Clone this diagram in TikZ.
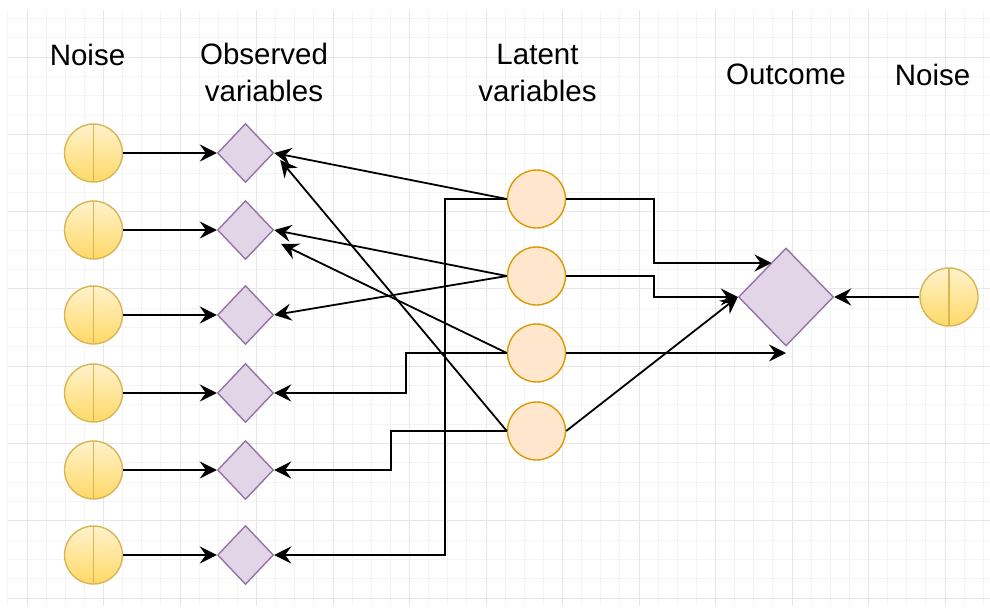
\documentclass[tikz,border=0pt]{standalone}
\usepackage{fontspec}
\setmainfont{Liberation Sans}
\usetikzlibrary{shapes.geometric,arrows.meta,calc}
\definecolor{noiseTop}{HTML}{FFF2CC}
\definecolor{noiseBot}{HTML}{FFD966}
\definecolor{noiseLine}{HTML}{D6B656}
\definecolor{obsFill}{HTML}{E1D5E7}
\definecolor{obsLine}{HTML}{9673A6}
\definecolor{latFill}{HTML}{FFE6CC}
\definecolor{latLine}{HTML}{D79B00}
\definecolor{gridMajor}{HTML}{E6E6E6}
\definecolor{gridMinor}{HTML}{F4F4F4}
\begin{document}
\begin{tikzpicture}[x=1pt,y=-1pt,
  noisenode/.style={circle, minimum size=58pt, inner sep=0pt, draw=noiseLine, line width=1.4pt,
    top color=noiseTop, bottom color=noiseBot,
    path picture={\draw[noiseLine, line width=1.4pt] (path picture bounding box.north) -- (path picture bounding box.south);}},
  obsnode/.style={diamond, minimum width=56pt, minimum height=59pt, inner sep=0pt, draw=obsLine, fill=obsFill, line width=1.4pt},
  outnode/.style={diamond, minimum width=95pt, minimum height=98pt, inner sep=0pt, draw=obsLine, fill=obsFill, line width=1.4pt},
  latnode/.style={circle, minimum size=58pt, inner sep=0pt, draw=latLine, fill=latFill, line width=1.4pt},
  conn/.style={draw=black, line width=1.8pt, -{Stealth[length=17pt,width=17pt,inset=6pt]}},
  lbl/.style={font=\fontsize{29.5}{36.5}\selectfont, inner sep=0pt, align=center, text=black},
  gmin/.style={draw=gridMinor, line width=0.9pt},
  gmaj/.style={draw=gridMajor, line width=1pt}
]
\useasboundingbox (0,0) rectangle (990,608);
\fill[white] (0,0) rectangle (990,608);
% grid
\foreach \i in {0,...,51} {\draw[gmin] ({7.875+19.125*\i},10) -- ({7.875+19.125*\i},606);}
\foreach \j in {0,...,30} {\draw[gmin] (8,{18.35+19.325*\j}) -- (990,{18.35+19.325*\j});}
\foreach \i in {0,...,12} {\draw[gmaj] ({27+76.5*\i},10) -- ({27+76.5*\i},606);}
\foreach \j in {0,...,7} {\draw[gmaj] (8,{57+77.3*\j}) -- (990,{57+77.3*\j});}

% labels
\node[lbl, anchor=base] (tNoiseL) at (87.5,65) {Noise};
\node[lbl] (tObs) at (264,72.5) {Observed\\variables};
\node[lbl] (tLat) at (537.5,72.8) {Latent\\variables};
\node[lbl, anchor=base] (tOut) at (786,84) {Outcome};
\node[lbl, anchor=base] (tNoiseR) at (932.5,85.5) {Noise};

% noise and observed
\foreach \k/\y in {1/153,2/230,3/315,4/393,5/470,6/555} {
  \node[noisenode] (n\k) at (93.5,\y) {};
  \node[obsnode] (o\k) at (245.5,\y) {};
}
% latent
\foreach \k/\y in {1/199,2/276,3/353,4/431} {
  \node[latnode] (l\k) at (536.5,\y) {};
}
\node[outnode] (out) at (786,297) {};
\node[noisenode] (rn) at (949,297) {};
\coordinate (outUL) at ($(out.center)+(-14.5,-34)$);
\coordinate (o1tip) at ($(o1.east)+(6,7)$);
\coordinate (o2tip) at ($(o2.east)+(7,14)$);

% noise -> observed
\foreach \k in {1,...,6} {\draw[conn] (n\k) -- (o\k);}

% latent -> observed
\draw[conn] (l1.west) -- (o1.east);
\draw[conn] (l4.west) -- (o1tip);
\draw[conn] (l2.west) -- (o2.east);
\draw[conn] (l3.west) -- (o2tip);
\draw[conn] (l2.west) -- (o3.east);
\draw[conn] (l3.west) -- ++(-101,0) |- (o4.east);
\draw[conn] (l4.west) -- ++(-116,0) |- (o5.east);
\draw[conn] (l1.west) -- ++(-62,0) |- (o6.east);

% latent -> outcome
\draw[conn] (l1.east) -- ++(88,0) |- (outUL);
\draw[conn] (l2.east) -- ++(88,0) |- (out.west);
\draw[conn] (l3.east) -- (l3.east -| out.center);
\draw[conn] (l4.east) -- (out.west);
\draw[conn] (rn.west) -- (out.east);
\end{tikzpicture}
\end{document}
